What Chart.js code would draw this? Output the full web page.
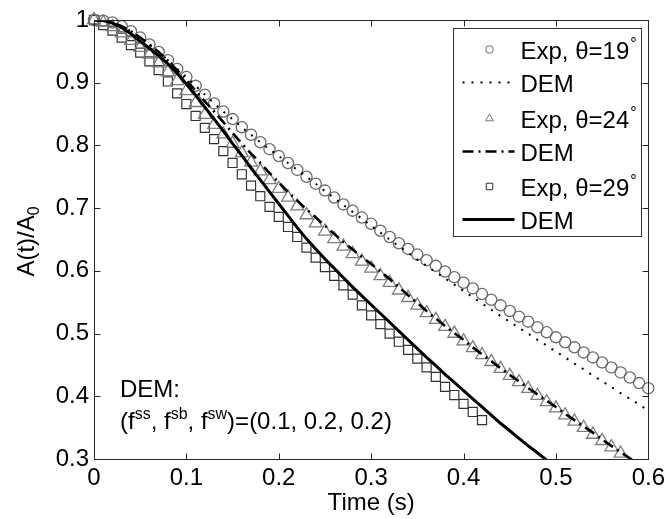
<!DOCTYPE html>
<html><head><meta charset="utf-8">
<script src="https://cdn.jsdelivr.net/npm/chart.js@4.4.1/dist/chart.umd.min.js"></script>
<style>html,body{margin:0;padding:0;background:#fff;}canvas{display:block;}</style>
</head><body>
<canvas id="c" width="670" height="519"></canvas>
<script>
// ---- data ----
const times = [0.00,0.01,0.02,0.03,0.04,0.05,0.06,0.07,0.08,0.09,
  0.10,0.11,0.12,0.13,0.14,0.15,0.16,0.17,0.18,0.19,
  0.20,0.21,0.22,0.23,0.24,0.25,0.26,0.27,0.28,0.29,
  0.30,0.31,0.32,0.33,0.34,0.35,0.36,0.37,0.38,0.39,
  0.40,0.41,0.42,0.43,0.44,0.45,0.46,0.47,0.48,0.49,
  0.50,0.51,0.52,0.53,0.54,0.55,0.56,0.57,0.58,0.59,0.60];

const exp19 = [1.000,0.999,0.996,0.990,0.982,0.972,0.961,0.949,0.936,0.922,
  0.909,0.895,0.881,0.867,0.854,0.842,0.829,0.817,0.805,0.794,
  0.783,0.772,0.761,0.750,0.739,0.728,0.717,0.706,0.696,0.685,
  0.675,0.664,0.654,0.644,0.635,0.626,0.617,0.608,0.599,0.590,
  0.581,0.572,0.563,0.554,0.545,0.536,0.527,0.519,0.510,0.502,
  0.494,0.486,0.478,0.470,0.462,0.454,0.446,0.438,0.430,0.421,0.413];

const dem19 = [1.000,0.999,0.996,0.990,0.982,0.972,0.961,0.949,0.936,0.922,
  0.909,0.895,0.881,0.867,0.854,0.842,0.829,0.817,0.805,0.794,
  0.783,0.772,0.761,0.750,0.739,0.727,0.716,0.705,0.694,0.683,
  0.672,0.661,0.650,0.639,0.629,0.618,0.608,0.598,0.588,0.578,
  0.568,0.558,0.548,0.538,0.528,0.519,0.509,0.500,0.490,0.481,
  0.471,0.462,0.452,0.443,0.433,0.424,0.415,0.405,0.396,0.387,0.377];

const exp24 = [1.000,0.996,0.989,0.979,0.967,0.956,0.945,0.931,0.917,0.903,
  0.887,0.868,0.849,0.833,0.818,0.803,0.788,0.773,0.759,0.745,
  0.731,0.717,0.703,0.689,0.676,0.663,0.651,0.639,0.627,0.615,
  0.604,0.592,0.581,0.569,0.557,0.545,0.533,0.522,0.511,0.500,
  0.488,0.477,0.466,0.455,0.444,0.433,0.423,0.412,0.401,0.391,
  0.381,0.370,0.360,0.350,0.339,0.329,0.319,0.309];

const dem24 = [1.000,0.999,0.996,0.990,0.982,0.972,0.961,0.949,0.935,0.920,
  0.904,0.887,0.870,0.854,0.837,0.820,0.803,0.787,0.772,0.756,
  0.741,0.726,0.712,0.698,0.685,0.672,0.659,0.646,0.634,0.622,
  0.611,0.599,0.587,0.574,0.561,0.549,0.536,0.524,0.512,0.501,
  0.490,0.478,0.467,0.456,0.445,0.434,0.424,0.413,0.403,0.393,
  0.383,0.372,0.362,0.352,0.342,0.331,0.321,0.311,0.301,0.291];

const exp29 = [1.000,0.992,0.983,0.972,0.960,0.948,0.934,0.920,0.902,0.883,
  0.866,0.847,0.828,0.810,0.791,0.772,0.754,0.736,0.719,0.702,
  0.686,0.670,0.654,0.637,0.621,0.606,0.592,0.577,0.562,0.545,
  0.529,0.515,0.500,0.487,0.474,0.460,0.446,0.431,0.415,0.402,
  0.388,0.375,0.362];

const dem29 = [1.000,0.999,0.995,0.988,0.978,0.966,0.955,0.943,0.930,0.915,
  0.898,0.880,0.861,0.842,0.823,0.803,0.784,0.764,0.745,0.726,
  0.707,0.688,0.669,0.651,0.635,0.619,0.604,0.589,0.574,0.560,
  0.546,0.532,0.518,0.504,0.490,0.476,0.462,0.449,0.435,0.422,
  0.409,0.396,0.383,0.370,0.357,0.345,0.333,0.321,0.310,0.298,0.287];

const xTickValues = [0, 0.1, 0.2, 0.3, 0.4, 0.5, 0.6];
const xTickLabels = ["0", "0.1", "0.2", "0.3", "0.4", "0.5", "0.6"];
const yTickValues = [0.3, 0.4, 0.5, 0.6, 0.7, 0.8, 0.9, 1];
const yTickLabels = ["0.3", "0.4", "0.5", "0.6", "0.7", "0.8", "0.9", "1"];

const seriesLabels = ["Exp, \u03b8=19\u00b0", "DEM", "Exp, \u03b8=24\u00b0", "DEM", "Exp, \u03b8=29\u00b0", "DEM"];
const xTitle = "Time (s)";
const yTitleMain = "A(t)/A";
const yTitleSub = "0";
const noteLine1 = "DEM:";
const noteLine2 = [["(f",0],["ss",1],[", f",0],["sb",1],[", f",0],["sw",1],[")=(0.1, 0.2, 0.2)",0]];

// ---- helpers ----
const FONT = '"Liberation Sans", Arial, Helvetica, sans-serif';
const pts = (xs, ys) => ys.map((v, i) => ({x: xs[i], y: v}));

const frame = {
  id: 'frame',
  afterDraw(chart) {
    const {ctx, chartArea: a, scales: {x, y}} = chart;
    ctx.save();
    ctx.strokeStyle = '#262626';
    ctx.lineWidth = 1;
    const L = Math.round(a.left) + 0.5, R = Math.round(a.right) + 0.5;
    const T = Math.round(a.top) + 0.5, B = Math.round(a.bottom) + 0.5;
    ctx.strokeRect(L, T, R - L, B - T);
    const tl = 6;
    ctx.beginPath();
    x.ticks.forEach(t => {
      const p = Math.round(x.getPixelForValue(t.value)) + 0.5;
      if (p <= L + 1 || p >= R - 1) return;
      ctx.moveTo(p, B); ctx.lineTo(p, B - tl);
      ctx.moveTo(p, T); ctx.lineTo(p, T + tl);
    });
    y.ticks.forEach(t => {
      const p = Math.round(y.getPixelForValue(t.value)) + 0.5;
      if (p <= T + 1 || p >= B - 1) return;
      ctx.moveTo(L, p); ctx.lineTo(L + tl, p);
      ctx.moveTo(R, p); ctx.lineTo(R - tl, p);
    });
    ctx.stroke();

    // axis titles
    ctx.fillStyle = '#000';
    ctx.font = '24px ' + FONT;
    ctx.textAlign = 'center';
    ctx.textBaseline = 'alphabetic';
    ctx.fillText(xTitle, (a.left + a.right) / 2, a.bottom + 51);

    // y title rotated with subscript
    ctx.save();
    ctx.translate(34, (a.top + a.bottom) / 2 + 2);
    ctx.rotate(-Math.PI / 2);
    ctx.font = '24px ' + FONT;
    const w1 = ctx.measureText(yTitleMain).width;
    ctx.font = '16px ' + FONT;
    const w2 = ctx.measureText(yTitleSub).width;
    const x0 = -(w1 + w2) / 2;
    ctx.textAlign = 'left';
    ctx.font = '24px ' + FONT;
    ctx.fillText(yTitleMain, x0, 0);
    ctx.font = '16px ' + FONT;
    ctx.fillText(yTitleSub, x0 + w1, 5);
    ctx.restore();

    // annotation
    ctx.textAlign = 'left';
    ctx.font = '24px ' + FONT;
    const nx = a.left + 26;
    ctx.fillText(noteLine1, nx, y.getPixelForValue(0.4) + 1);
    let cx = nx;
    const by = y.getPixelForValue(0.4) + 33;
    noteLine2.forEach(([s, sup]) => {
      ctx.font = (sup ? '16px ' : '24px ') + FONT;
      ctx.fillText(s, cx, sup ? by - 10 : by);
      cx += ctx.measureText(s).width;
    });

    // legend
    const lw = 188, lh = 208;
    const lx = Math.round(a.right) - 195 + 0.5, ly = Math.round(a.top) + 8 + 0.5;
    ctx.fillStyle = '#fff';
    ctx.fillRect(lx, ly, lw, lh);
    ctx.strokeStyle = '#333';
    ctx.lineWidth = 1;
    ctx.strokeRect(lx, ly, lw, lh);
    const rowY = [21, 54, 90, 123, 158, 191];
    const sampleX0 = lx + 9, sampleX1 = lx + 61, textX = lx + 67;
    chart.data.datasets.forEach((d, i) => {
      const yy = ly + rowY[i];
      ctx.save();
      if (d.showLine === false) {
        ctx.strokeStyle = d.borderColor;
        ctx.fillStyle = 'rgba(0,0,0,0)';
        ctx.lineWidth = 1;
        Chart.helpers.drawPoint(ctx, {pointStyle: d.pointStyle, rotation: 0, radius: d.legendRadius, borderWidth: 1}, lx + 36, yy);
      } else {
        ctx.strokeStyle = d.borderColor;
        ctx.lineWidth = d.borderWidth;
        ctx.setLineDash(d.borderDash || []);
        ctx.beginPath();
        ctx.moveTo(sampleX0, yy); ctx.lineTo(sampleX1, yy);
        ctx.stroke();
      }
      ctx.restore();
      ctx.fillStyle = '#000';
      ctx.textAlign = 'left';
      ctx.textBaseline = 'alphabetic';
      let lab = d.label, deg = false;
      if (lab.endsWith('\u00b0')) { lab = lab.slice(0, -1); deg = true; }
      ctx.font = '24px ' + FONT;
      ctx.fillText(lab, textX, yy + 9);
      if (deg) {
        const w = ctx.measureText(lab).width;
        ctx.font = '16px ' + FONT;
        ctx.fillText('\u00b0', textX + w + 1, yy - 1);
      }
    });
    ctx.restore();
  }
};

new Chart(document.getElementById('c'), {
  type: 'line',
  data: {
    datasets: [
      {label: seriesLabels[0], data: pts(times, exp19), showLine: false, pointStyle: 'circle', pointRadius: 5.6,
       borderColor: '#6a6a6a', pointBorderWidth: 1.3, pointBackgroundColor: 'rgba(0,0,0,0)', clip: false, order: 2, legendRadius: 3.8},
      {label: seriesLabels[1], data: pts(times, dem19), borderColor: '#000', borderWidth: 2, borderDash: [2, 7],
       pointRadius: 0, order: 1},
      {label: seriesLabels[2], data: pts(times, exp24), showLine: false, pointStyle: 'triangle', pointRadius: 7.4,
       borderColor: '#7d7d7d', pointBorderWidth: 1.3, pointBackgroundColor: 'rgba(0,0,0,0)', clip: false, order: 2, legendRadius: 4.6},
      {label: seriesLabels[3], data: pts(times, dem24), borderColor: '#000', borderWidth: 2.6, borderDash: [11, 5, 2, 5],
       pointRadius: 0, order: 1},
      {label: seriesLabels[4], data: pts(times, exp29), showLine: false, pointStyle: 'rect', pointRadius: 6.4,
       borderColor: '#333', pointBorderWidth: 1.2, pointBackgroundColor: 'rgba(0,0,0,0)', clip: false, order: 2, legendRadius: 4.6},
      {label: seriesLabels[5], data: pts(times, dem29), borderColor: '#000', borderWidth: 3,
       pointRadius: 0, order: 1}
    ]
  },
  options: {
    responsive: false,
    animation: false,
    devicePixelRatio: 1,
    layout: {padding: {top: 20, right: 19, left: 0, bottom: 0}},
    plugins: {legend: {display: false}, tooltip: {enabled: false}},
    elements: {line: {tension: 0}},
    scales: {
      x: {
        type: 'linear', min: 0, max: 0.6,
        afterBuildTicks: s => { s.ticks = xTickValues.map(v => ({value: v})); },
        afterFit: s => { s.height = 60; },
        grid: {display: false, drawTicks: false},
        border: {display: false},
        ticks: {
          padding: 5, color: '#000', maxRotation: 0, autoSkip: false,
          font: {family: FONT, size: 24},
          callback: v => xTickLabels[xTickValues.findIndex(t => Math.abs(t - v) < 1e-6)]
        }
      },
      y: {
        type: 'linear', min: 0.3, max: 1,
        afterBuildTicks: s => { s.ticks = yTickValues.map(v => ({value: v})); },
        afterFit: s => { s.width = 94; },
        grid: {display: false, drawTicks: false},
        border: {display: false},
        ticks: {
          padding: 5, color: '#000', autoSkip: false,
          font: {family: FONT, size: 24},
          callback: v => yTickLabels[yTickValues.findIndex(t => Math.abs(t - v) < 1e-6)]
        }
      }
    }
  },
  plugins: [frame]
});
</script>
</body></html>
